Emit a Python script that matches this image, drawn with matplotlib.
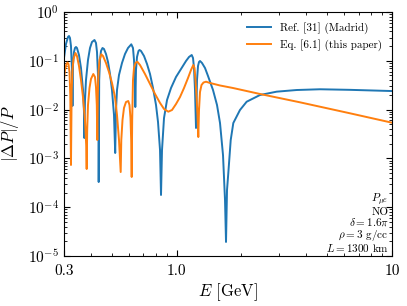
import matplotlib
matplotlib.use("Agg")
from matplotlib import pyplot as plt
from matplotlib.ticker import LogLocator, NullFormatter

plt.rcParams["font.family"] = "serif"
plt.rcParams["font.serif"] = ["cmr10"]
plt.rcParams["mathtext.fontset"] = "cm"
plt.rcParams["axes.formatter.use_mathtext"] = True

# Ref. [31] (Madrid)
E_madrid = [0.3, 0.3065, 0.3131, 0.3165, 0.3199, 0.3233, 0.3268, 0.3285,
            0.3303, 0.3339, 0.3374, 0.3411, 0.3447, 0.3522, 0.3598, 0.3676, 0.3716, 0.3728,
            0.3756, 0.3796, 0.3878, 0.3962, 0.4047, 0.4157, 0.4224, 0.4270, 0.4315, 0.4339, 0.4348,
            0.4371, 0.4409, 0.4456, 0.4528, 0.4601, 0.4701, 0.4803, 0.4907, 0.5012, 0.5121, 0.5187,
            0.5231, 0.5288, 0.5402, 0.5578, 0.5760, 0.5948, 0.6161, 0.6274, 0.6342, 0.6410, 0.6430,
            0.6479, 0.6548, 0.6654, 0.6726, 0.6835, 0.7058, 0.7288, 0.7526, 0.7771, 0.8025, 0.8198,
            0.8375, 0.8465,
            0.8556, 0.8741, 0.9026, 0.9420, 0.9937, 1.0483, 1.1059, 1.1419, 1.1753, 1.1918, 1.2046,
            1.2175, 1.2306,
            1.2438, 1.2572, 1.2707, 1.2843, 1.3121, 1.3549, 1.3991, 1.4758, 1.5404, 1.5906, 1.6424,
            1.6779, 1.6960,
            1.7142, 1.7382, 1.7834, 1.8336, 1.9690, 2.1147, 2.4380, 2.9145, 3.610, 4.631, 6.382, 10.0]
dP_madrid = [0.1141, 0.2209, 0.3074, 0.3223, 0.2933, 0.2010, 0.0648, 0.0119,
             0.0820, 0.1515, 0.1829, 0.1918, 0.1829, 0.1315, 0.0712, 0.0252, 0.00893, 0.00262,
             0.0157, 0.0404, 0.1039, 0.1829, 0.2427, 0.2668, 0.2317, 0.1515, 0.0512, 0.00981, 0.000328,
             0.0404, 0.1039, 0.1588, 0.1829, 0.1745, 0.1378, 0.0945, 0.0536, 0.0252, 0.00775, 0.00129,
             0.00981, 0.0252, 0.0512, 0.0902, 0.1378, 0.1829, 0.2178, 0.1829, 0.1039, 0.0319, 0.0113,
             0.0648, 0.1197, 0.1588, 0.1665, 0.1588, 0.1254, 0.0860, 0.0536, 0.0277, 0.0124, 0.00557,
             0.00149, 0.000178,
             0.00149, 0.00673, 0.0157, 0.0277, 0.0466, 0.0679, 0.0991, 0.1197, 0.1315, 0.1141, 0.0712,
             0.0252, 0.00420,
             0.0404, 0.0782, 0.0945, 0.0991, 0.0902, 0.0712, 0.0488, 0.0252, 0.0124, 0.00531, 0.00117,
             0.000140, 0.0000194,
             0.000225, 0.000502, 0.00238, 0.00531, 0.00981, 0.0145, 0.0199, 0.0233, 0.0252, 0.0261,
             0.0254, 0.0240]

# Eq. [6.1] (this paper)
E_eq = [0.3, 0.3032, 0.3081, 0.3114, 0.3148, 0.3182, 0.3209, 0.3233,
        0.3257, 0.3285, 0.3321, 0.3392, 0.3447, 0.3522, 0.3598, 0.3676, 0.3756, 0.3804, 0.3824,
        0.3845, 0.3878, 0.3941, 0.4004, 0.4104, 0.4179, 0.4224, 0.4261, 0.4283,
        0.4306, 0.4339, 0.4385, 0.4471, 0.4553, 0.4701, 0.4854, 0.5012, 0.5176, 0.5288, 0.5402, 0.5501,
        0.5536, 0.5608, 0.5698, 0.5822, 0.5966, 0.6043, 0.6108, 0.6154, 0.6187,
        0.6220, 0.6274, 0.6342, 0.6444, 0.6569, 0.6762, 0.7133, 0.7526, 0.7940, 0.8375, 0.8741,
        0.9152, 0.9522, 0.9937, 1.0371, 1.0825, 1.1297, 1.1666, 1.1956, 1.2110, 1.2240, 1.2398,
        1.2504, 1.2612,
        1.2707, 1.2843, 1.3051, 1.3333, 1.3694, 1.4293, 1.5906, 1.8277, 2.4380, 3.740, 6.382, 10.0]
dP_eq = [0.0404, 0.0648, 0.0860, 0.0923, 0.0860, 0.0589, 0.0199, 0.000732,
         0.0252, 0.0648, 0.1089, 0.1445, 0.1254, 0.0782, 0.0404, 0.0181, 0.00612, 0.00188, 0.000606,
         0.00382, 0.0124, 0.0277, 0.0424, 0.0536, 0.0466, 0.0290, 0.0124, 0.00238,
         0.0199, 0.0589, 0.1039, 0.1359, 0.1254, 0.0902, 0.0589, 0.0351, 0.0181, 0.00775, 0.00238, 0.000526,
         0.00238, 0.00612, 0.0108, 0.0143, 0.0150, 0.0124, 0.00673, 0.00238, 0.000416,
         0.00612, 0.0404, 0.0712, 0.0902, 0.0958, 0.0820, 0.0536, 0.0335, 0.0209, 0.0137, 0.0103,
         0.00906, 0.00981, 0.0130, 0.0181, 0.0277, 0.0444, 0.0648, 0.0820, 0.0712, 0.0404, 0.0157,
         0.00775, 0.00274,
         0.00981, 0.0229, 0.0319, 0.0359, 0.0373, 0.0351, 0.0312, 0.0277, 0.0209, 0.0141, 0.00840, 0.00539]

labels = ["Ref. [31] (Madrid)", "Eq. [6.1] (this paper)"]
x_ticks = [0.3, 1.0, 10]
x_ticklabels = ["0.3", "1.0", "10"]
info = "$P_{\\mu e}$\nNO\n$\\delta = 1.6\\pi$\n$\\rho = 3$ g/cc\n$L = 1300$ km"

fig = plt.figure(figsize=(4.07, 3.06), dpi=100)
ax = fig.add_axes([0.1572, 0.1634, 0.8059, 0.7974])

ax.plot(E_madrid, dP_madrid, color="tab:blue", lw=1.4, label=labels[0])
ax.plot(E_eq, dP_eq, color="tab:orange", lw=1.4, label=labels[1])

ax.set_xscale("log")
ax.set_yscale("log")
ax.set_xlim(0.3, 10)
ax.set_ylim(1e-5, 1)
ax.set_xticks(x_ticks)
ax.set_xticklabels(x_ticklabels)
ax.xaxis.set_minor_locator(LogLocator(base=10, subs=range(2, 10)))
ax.xaxis.set_minor_formatter(NullFormatter())
ax.yaxis.set_major_locator(LogLocator(base=10, numticks=10))
ax.yaxis.set_minor_locator(LogLocator(base=10, subs=range(2, 10), numticks=10))
ax.yaxis.set_minor_formatter(NullFormatter())
ax.tick_params(which="both", direction="in", top=True, right=True, labelsize=11)
ax.tick_params(axis="x", which="major", pad=6)
ax.tick_params(which="major", length=4)
ax.tick_params(which="minor", length=2)

ax.set_xlabel("$E$ [GeV]", fontsize=12, labelpad=2)
ax.set_ylabel("$|\\Delta P|/P$", fontsize=12, labelpad=5)

ax.legend(loc="upper right", frameon=False, fontsize=8, handlelength=2.2)
ax.text(0.99, 0.008, info, transform=ax.transAxes, ha="right", va="bottom",
        multialignment="right", fontsize=8, linespacing=0.95)

fig.savefig("out.png", dpi=100)
